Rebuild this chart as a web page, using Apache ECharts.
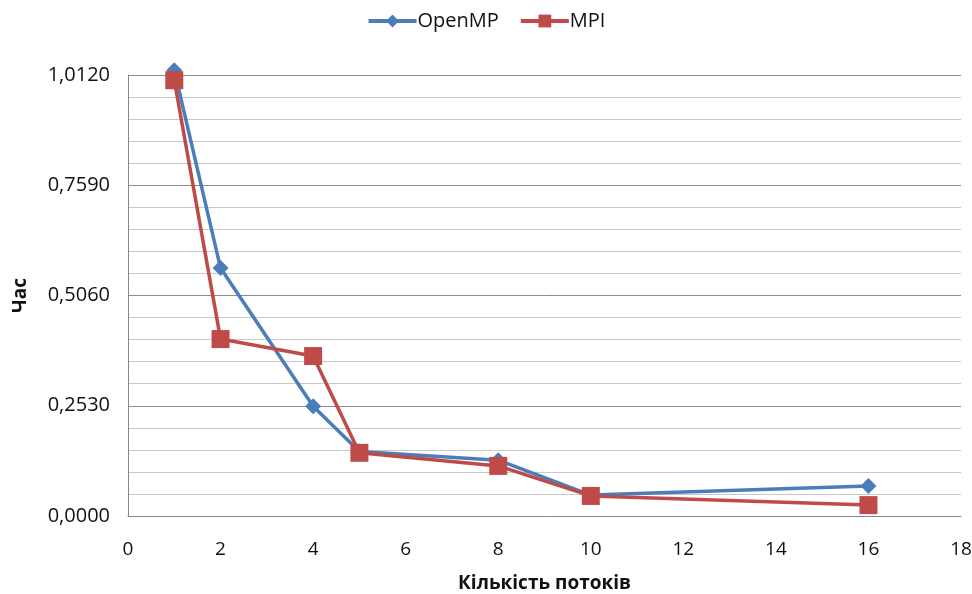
<!DOCTYPE html>
<html><head><meta charset="utf-8">
<script src="https://cdn.jsdelivr.net/npm/echarts@6/dist/echarts.min.js"></script>
<style>html,body{margin:0;padding:0;background:#fff}#c{width:972px;height:594px}</style>
</head><body><div id="c"></div>
<script>
const threads = [1, 2, 4, 5, 8, 10, 16];
const openmp = [1.023, 0.569, 0.252, 0.148, 0.128, 0.048, 0.069];
const mpi = [1.000, 0.406, 0.367, 0.145, 0.115, 0.046, 0.025];
const seriesNames = ['OpenMP', 'MPI'];
const xTitle = 'Кількість потоків';
const yTitle = 'Час';

const font = '"Open Sans", "Noto Sans", sans-serif';
const chart = echarts.init(document.getElementById('c'));
chart.setOption({
  backgroundColor: '#fff',
  animation: false,
  legend: {
    top: 6, left: 'center', itemWidth: 48, itemHeight: 16, itemGap: 20,
    lineStyle: {width: 4},
    textStyle: {fontFamily: font, fontSize: 20, color: '#111', padding: [0, 0, 0, -4]},
    data: seriesNames
  },
  grid: {left: 128, right: 11, top: 75, bottom: 78, containLabel: false, outerBoundsMode: 'none'},
  xAxis: {
    type: 'value', min: 0, max: 18, interval: 2,
    name: xTitle, nameLocation: 'middle', nameGap: 58,
    nameTextStyle: {fontFamily: font, fontSize: 19, fontWeight: 'bold', color: '#111'},
    axisLine: {show: true, lineStyle: {color: '#868686', width: 1}},
    axisTick: {show: false},
    axisLabel: {fontFamily: font, fontSize: 19, color: '#111', margin: 24},
    splitLine: {show: false}
  },
  yAxis: {
    type: 'value', min: 0, max: 1.012, interval: 0.253,
    name: yTitle, nameLocation: 'middle', nameGap: 98, nameRotate: 90,
    nameTextStyle: {fontFamily: font, fontSize: 19, fontWeight: 'bold', color: '#111'},
    axisLine: {show: true, lineStyle: {color: '#868686', width: 1}},
    axisTick: {show: false},
    axisLabel: {fontFamily: font, fontSize: 20, color: '#111', margin: 18,
      formatter: v => v.toFixed(4).replace('.', ',')},
    splitLine: {show: true, lineStyle: {color: '#8c8c8c', width: 1}},
    minorTick: {show: false, splitNumber: 5},
    minorSplitLine: {show: true, lineStyle: {color: '#c8c8c8', width: 1}}
  },
  series: [
    {
      name: seriesNames[0], type: 'line', clip: false,
      data: threads.map((t, i) => [t, openmp[i]]),
      symbol: 'diamond', symbolSize: 16,
      lineStyle: {color: '#4A7EBB', width: 3.5},
      itemStyle: {color: '#4A7EBB'}
    },
    {
      name: seriesNames[1], type: 'line', clip: false,
      data: threads.map((t, i) => [t, mpi[i]]),
      symbol: 'rect', symbolSize: 18,
      lineStyle: {color: '#BE4B48', width: 3.5},
      itemStyle: {color: '#BE4B48'}
    }
  ]
});
</script></body></html>
